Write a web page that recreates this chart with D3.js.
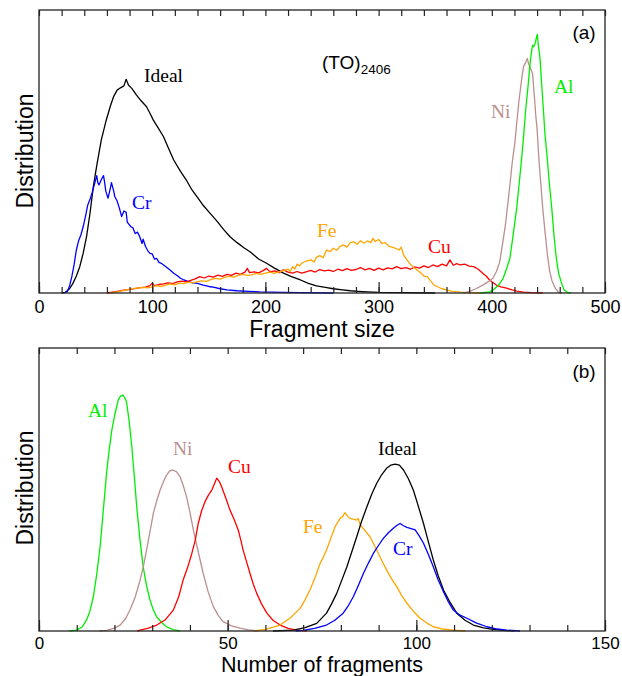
<!DOCTYPE html>
<html><head><meta charset="utf-8">
<script src="https://cdn.jsdelivr.net/npm/d3@7"></script>
<style>body{margin:0;background:#fff}svg{display:block}</style>
</head><body>
<script>
// ---------- DATA (panel a: fragment size distribution) ----------
const idealA = [[20,0],[23,0.2],[27,1.5],[30,3.4],[33,6],[36,9.3],[39,14],[42,19.9],[45,28],[48,37.6],[51,45],[55,54],[59,60.5],[63,66],[66,69.5],[69,71.7],[72,72.5],[75,73.2],[77,75.5],[79,73.5],[82,72.3],[86,70],[90,68],[95,65.8],[98,63.5],[101,61.1],[105,58.5],[110,55.2],[114,51.5],[119,47],[125,43],[130,40],[135,36.5],[140,33.8],[145,31],[151,28.2],[157,25.5],[163,22.5],[169,19.8],[175,17.8],[181,16],[187,14.4],[194,12],[201,10.5],[208,8.8],[216,7],[223,5.8],[231,4.6],[238,3.4],[245,2.5],[253,2],[260,1.5],[268,1.1],[275,0.8],[282,0.6],[290,0.4],[300,0.2],[320,0.1],[350,0]];
const crA = [[22,0],[25,0.5],[27,2.5],[29,5.8],[31,10],[33,15.2],[35,18.5],[37,20.5],[39,23.4],[41,27],[43,31],[45,33],[47,35.5],[49,38.5],[51,41.5],[52,39],[53,38.2],[55,40],[57,41.5],[58,39],[59,36],[61,33.5],[63,37],[64,39],[66,36],[67,34],[69,32.5],[71,30],[73,27],[75,29],[77,28.5],[78,25],[79,24.5],[81,23.5],[83,23],[85,21],[87,21.5],[89,19.9],[91,17.5],[92,19],[94,16.5],[96,15],[98,14],[100,13.8],[102,12],[104,12.2],[106,10.8],[108,10.5],[110,9.9],[113,9],[116,8],[119,7],[122,6.2],[125,5.2],[128,4.6],[132,4],[136,3.6],[140,3.4],[145,2.8],[150,2.3],[155,2],[160,1.5],[166,1.1],[175,0.8],[185,0.6],[195,0.4],[205,0.3],[216,0.2],[230,0.1],[260,0]];
const feA = [[63,0],[70,0.5],[78,1.2],[85,1.6],[92,2.0],[96,1.8],[100,2.2],[104,2.6],[108,2.3],[112,2.8],[116,3.2],[120,2.9],[124,3.5],[128,3.3],[132,3.8],[136,3.6],[140,4.0],[144,4.3],[148,4.1],[152,4.8],[156,5.2],[160,4.9],[164,5.5],[168,5.9],[172,5.6],[176,6.2],[180,6.6],[184,6.2],[188,6.4],[192,6.9],[196,6.6],[200,7.0],[204,7.4],[208,6.9],[212,7.5],[216,7.9],[220,8.4],[222,7.6],[224,9.3],[226,8.5],[228,10.2],[230,9.6],[232,10.5],[236,11.3],[240,11.7],[243,11.0],[245,12.6],[248,13.2],[251,12.5],[254,15.2],[257,14.6],[260,15.8],[263,15.1],[266,16.5],[269,17.0],[272,16.2],[275,17.8],[278,18.1],[281,17.2],[284,18.5],[287,17.6],[290,18.4],[293,17.8],[295,19.3],[297,18.2],[300,18.9],[303,17.5],[306,17.8],[309,16.5],[312,16.2],[315,15.8],[318,15.2],[320,16.2],[322,13.5],[325,11.7],[328,10.2],[331,9.0],[334,8.1],[337,7.2],[340,6.0],[343,5.8],[346,4.2],[349,2.8],[352,2.2],[356,1.5],[360,1.1],[365,0.6],[372,0.3],[380,0.1],[390,0]];
const cuA = [[60,0],[68,0.5],[75,1.0],[82,1.4],[88,1.8],[94,2.1],[98,2.6],[100,3.5],[102,2.6],[106,3.0],[110,3.2],[114,3.6],[118,3.3],[122,3.9],[126,4.2],[130,3.9],[134,4.5],[138,5.0],[142,5.8],[146,5.3],[150,6.0],[154,5.6],[158,6.3],[162,5.9],[166,6.6],[170,6.2],[174,7.0],[178,6.6],[182,7.4],[184,8.7],[186,7.2],[190,7.5],[194,7.1],[198,7.9],[201,8.7],[204,7.5],[208,7.8],[212,7.2],[216,8.2],[220,7.4],[224,7.0],[228,7.6],[232,7.0],[236,7.5],[240,8.0],[244,7.4],[248,8.3],[252,7.8],[256,8.1],[260,7.6],[264,8.4],[268,7.9],[272,8.6],[276,8.0],[280,8.3],[284,9.0],[288,8.2],[292,8.7],[296,8.0],[300,8.8],[304,8.2],[308,8.9],[312,8.5],[316,9.3],[320,8.6],[324,9.0],[328,8.4],[332,9.2],[336,8.8],[340,9.6],[344,9.0],[348,9.9],[352,9.3],[356,10.2],[360,9.6],[363,11.7],[366,9.8],[369,10.4],[372,9.9],[376,10.2],[380,9.5],[384,9.3],[388,8.4],[392,7.0],[395,6.0],[398,4.6],[401,3.7],[404,2.8],[408,2.2],[413,1.7],[418,1.1],[422,0.7],[428,0.3],[435,0.1],[445,0]];
const niA = [[375,0],[380,0.5],[386,1.5],[392,2.8],[397,4],[401,5.2],[404,7.5],[407,11],[409,16],[412,24],[414,31],[416,38.2],[418,46],[420.5,53.5],[422,60],[424,68],[425,71.1],[426.5,76],[428,80],[430,81.5],[431.4,82.9],[432.5,81],[433.7,80],[435,78.5],[436,77.6],[437.5,70],[439,62],[440,58],[441.5,48],[443,40],[445,30],[447,21.7],[449,14],[451,8],[453,4.5],[456,1.7],[459,0.3],[462,0]];
const alA = [[390,0],[398,0.4],[401,1],[406,2.8],[410,5.2],[413,8.5],[416,12.3],[418,18],[420,24],[422,30],[424,38],[426,46],[428,55],[430,65],[432,73],[433.7,80.6],[435,85],[436,87.6],[437,87],[438.2,88.2],[439,89.5],[440.2,91.4],[441,88],[442.6,82.9],[444,74],[445.5,65.3],[447,56],[449,47.6],[451,38],[453,29.9],[455,20],[457,12.3],[459,7],[461.7,3.4],[464,1],[467,0.2],[470,0]];

// ---------- DATA (panel b: number of fragments distribution) ----------
const alB = [[8,0],[10,0.3],[11.5,1.5],[12.6,3.9],[13.5,7],[14.4,12.1],[15.3,20],[16.2,29.8],[17,42],[17.9,55.7],[18.6,64],[19.3,71],[20.1,76.5],[21,81.6],[21.6,83],[22.2,83.4],[22.7,82.5],[23.2,81],[23.9,74],[24.6,65.1],[25.3,54],[25.9,43.9],[26.7,33],[27.6,22.7],[28.5,16],[29.4,11],[30.3,7.5],[31.2,5],[32.5,3],[33.8,1.5],[35.5,0.5],[37.4,0]];
const niB = [[16,0],[18,0.2],[20,1],[21.5,2.1],[23,4.5],[24.1,7.4],[25.5,12],[26.8,18],[27.7,23],[28.5,28.6],[29.4,35],[30.3,41.6],[31.2,46],[32.1,49.8],[33,52.8],[33.8,55.1],[34.6,56.5],[35.4,56.9],[36.4,56.3],[37.4,54.5],[38.2,51.5],[39.1,47.5],[40,42],[40.9,35.7],[42.2,28],[43.5,20.4],[44.8,14],[46.2,8.6],[47.5,5.5],[48.8,3.3],[51,1.8],[53.3,1],[55.5,0.4],[58,0]];
const cuB = [[26,0],[26.8,0.3],[29,1],[31.2,2.1],[33.5,4],[35.6,7.4],[37,12],[38.2,18],[39.4,22.5],[40.5,27.4],[41.4,32],[42.2,38],[43.1,42.5],[44,45.7],[44.9,48],[45.8,49.8],[46.5,52],[47.1,54],[47.8,52.8],[48.4,51],[49.5,47],[50.6,42.8],[51.7,39.5],[52.8,35.7],[53.5,32],[54.1,28.6],[55,24.5],[55.9,20.4],[56.8,16.5],[57.7,13.3],[59,9.5],[60.4,6.3],[62,3.8],[63.9,2.1],[66,0.9],[68.3,0.3],[71,0]];
const feB = [[57,0],[60,0.6],[63.9,2.1],[66.5,4.5],[69.2,8],[70.5,11],[71.8,14.5],[73.2,19],[74.5,23.9],[75.3,26],[76.2,28.6],[77.4,33],[78.5,36.9],[79.2,38.5],[79.8,39.8],[80.5,40.5],[81.1,41.8],[81.8,40.5],[82.4,39.8],[83.3,39.5],[84.2,39.2],[84.6,39.8],[85.1,37.5],[86.4,35.5],[87.7,33.3],[88.6,31],[89.5,28.6],[90.8,25],[92.1,21.6],[93.4,18.5],[94.8,15.7],[96.1,12.6],[97.5,9.8],[99.2,7],[101,4.5],[102.8,2.8],[104.5,1.5],[107,0.7],[109.8,0.3],[113,0]];
const idealB = [[62,0],[67.4,0.3],[70.5,1.2],[73.6,2.7],[76.2,6.3],[77.5,9.5],[78.9,13.3],[80.2,17.8],[81.6,22.7],[82.9,28],[84.2,33.3],[85.5,38.8],[86.9,43.9],[88.2,48.4],[89.5,52.2],[90.8,55.2],[92.1,57.5],[93.2,58.6],[94.4,59],[95.5,58.6],[96.6,56.9],[97.9,53.8],[99.2,49.8],[100.5,44.2],[101.9,38],[103.2,31.5],[104.5,25.1],[105.8,19.5],[107.2,14.5],[109,10],[110.7,6.3],[112.9,3.8],[115.1,2.1],[117.8,1.1],[120.4,0.6],[123,0.2],[126,0]];
const crB = [[68,0],[70,0.2],[73,0.9],[76.2,2.1],[78.4,3.8],[80.6,6.3],[82,9],[83.3,12.1],[84.6,16],[86,20.4],[87.3,24],[88.6,27.4],[90,30.3],[91.3,32.8],[92.6,34.7],[93.9,36.3],[94.8,37.3],[95.7,38],[96.6,37.2],[97.5,36.6],[98.6,36.2],[99.7,35.7],[100.8,33.5],[101.9,31],[103.2,27],[104.5,22.7],[105.8,18],[107.2,13.9],[108.5,10.3],[109.8,7.4],[111.6,5.6],[113.4,4.5],[116,2.8],[118.7,1.5],[121.4,0.7],[124,0.3],[127.5,0]];

const ticksA_major = [0,100,200,300,400,500];
const ticksA_minor = d3.range(0,501,20);
const ticksB_major = [0,50,100,150];
const ticksB_minor = d3.range(0,151,10);

const colors = {Ideal:"#000000", Cr:"#0000ff", Fe:"#ffa500", Cu:"#ff0000", Ni:"#bc8f8f", Al:"#00ee00"};

const seriesA = [
  {name:"Ideal", data:idealA, lx:144, ly:82},
  {name:"Cr", data:crA, lx:132, ly:209},
  {name:"Cu", data:cuA, lx:428, ly:253},
  {name:"Fe", data:feA, lx:317, ly:237},
  {name:"Ni", data:niA, lx:491, ly:118},
  {name:"Al", data:alA, lx:554, ly:93}
];
const seriesB = [
  {name:"Al", data:alB, lx:88, ly:417},
  {name:"Ni", data:niB, lx:173, ly:455},
  {name:"Cu", data:cuB, lx:228, ly:473},
  {name:"Fe", data:feB, lx:303, ly:533},
  {name:"Ideal", data:idealB, lx:378, ly:455},
  {name:"Cr", data:crB, lx:393, ly:555}
];

// ---------- DRAW ----------
const W = 622, H = 676;
const svg = d3.select("body").append("svg").attr("width", W).attr("height", H);
const left = 39, right = 605;
const sans = "'Liberation Sans', Arial, Helvetica, sans-serif";
const serif = "'Liberation Serif', 'Times New Roman', serif";

function panel(cfg){
  const x = d3.scaleLinear().domain(cfg.xdom).range([left, right]);
  const y = d3.scaleLinear().domain([0,100]).range([cfg.bottom, cfg.top]);
  const g = svg.append("g");
  const clipId = "clip" + cfg.id;
  svg.append("clipPath").attr("id", clipId).append("rect")
    .attr("x", left).attr("y", cfg.top).attr("width", right-left).attr("height", cfg.bottom-cfg.top+2);
  const line = d3.line().x(d=>x(d[0])).y(d=>y(d[1]));
  g.append("g").attr("clip-path", `url(#${clipId})`).selectAll("path").data(cfg.series).join("path")
    .attr("d", d=>line(d.data)).attr("fill","none")
    .attr("stroke", d=>colors[d.name]).attr("stroke-width",1.3).attr("stroke-linejoin","round");
  // frame
  g.append("rect").attr("x", left).attr("y", cfg.top).attr("width", right-left).attr("height", cfg.bottom-cfg.top)
    .attr("fill","none").attr("stroke","#222").attr("stroke-width",1.3);
  // bottom minor ticks
  const axMinor = g.append("g").attr("transform",`translate(0,${cfg.bottom})`)
    .call(d3.axisBottom(x).tickValues(cfg.minor).tickSizeInner(-6).tickSizeOuter(0).tickFormat(""));
  axMinor.select(".domain").remove();
  const axMajor = g.append("g").attr("transform",`translate(0,${cfg.bottom})`)
    .call(d3.axisBottom(x).tickValues(cfg.major).tickSizeInner(-11).tickSizeOuter(0).tickPadding(cfg.tickPad).tickFormat(d3.format("d")));
  axMajor.select(".domain").remove();
  axMajor.selectAll("text").attr("font-family", sans).attr("font-size", cfg.tickFont).attr("fill","#000");
  // top ticks
  const axTop = g.append("g").attr("transform",`translate(0,${cfg.top})`)
    .call(d3.axisTop(x).tickValues(cfg.minor).tickSizeInner(-6).tickSizeOuter(0).tickFormat(""));
  axTop.select(".domain").remove();
  g.selectAll(".tick line").attr("stroke","#222").attr("stroke-width",1.2);
  // axis titles
  g.append("text").attr("x", 322).attr("y", cfg.xtitleY).attr("text-anchor","middle")
    .attr("font-family", sans).attr("font-size", cfg.titleFont).text(cfg.xtitle);
  g.append("text").attr("transform", `translate(33,${cfg.ycenter}) rotate(-90)`).attr("text-anchor","middle")
    .attr("font-family", sans).attr("font-size", 23).text("Distribution");
  // panel tag
  g.append("text").attr("x", 584).attr("y", cfg.tagY).attr("text-anchor","middle")
    .attr("font-family", sans).attr("font-size", 19).text(cfg.tag);
  // series labels
  g.selectAll("text.lab").data(cfg.series).join("text").attr("class","lab")
    .attr("x", d=>d.lx).attr("y", d=>d.ly).attr("font-family", serif).attr("font-size", 19.5)
    .attr("fill", d=>colors[d.name]).text(d=>d.name);
  return g;
}

const ga = panel({id:"a", xdom:[0,500], top:10, bottom:293, series:seriesA, major:ticksA_major, minor:ticksA_minor,
  xtitle:"Fragment size", xtitleY:336.5, ycenter:151, tag:"(a)", tagY:39, tickPad:7, tickFont:18, titleFont:23});
panel({id:"b", xdom:[0,150], top:348, bottom:631, series:seriesB, major:ticksB_major, minor:ticksB_minor,
  xtitle:"Number of fragments", xtitleY:671.5, ycenter:488, tag:"(b)", tagY:378, tickPad:6, tickFont:17, titleFont:21.5});

// (TO)_2406 annotation
const t = ga.append("text").attr("x", 322).attr("y", 69).attr("font-family", sans).attr("font-size", 19);
t.append("tspan").text("(TO)");
t.append("tspan").attr("dy", 5).attr("font-size", 13.5).text("2406");
</script>
</body></html>
